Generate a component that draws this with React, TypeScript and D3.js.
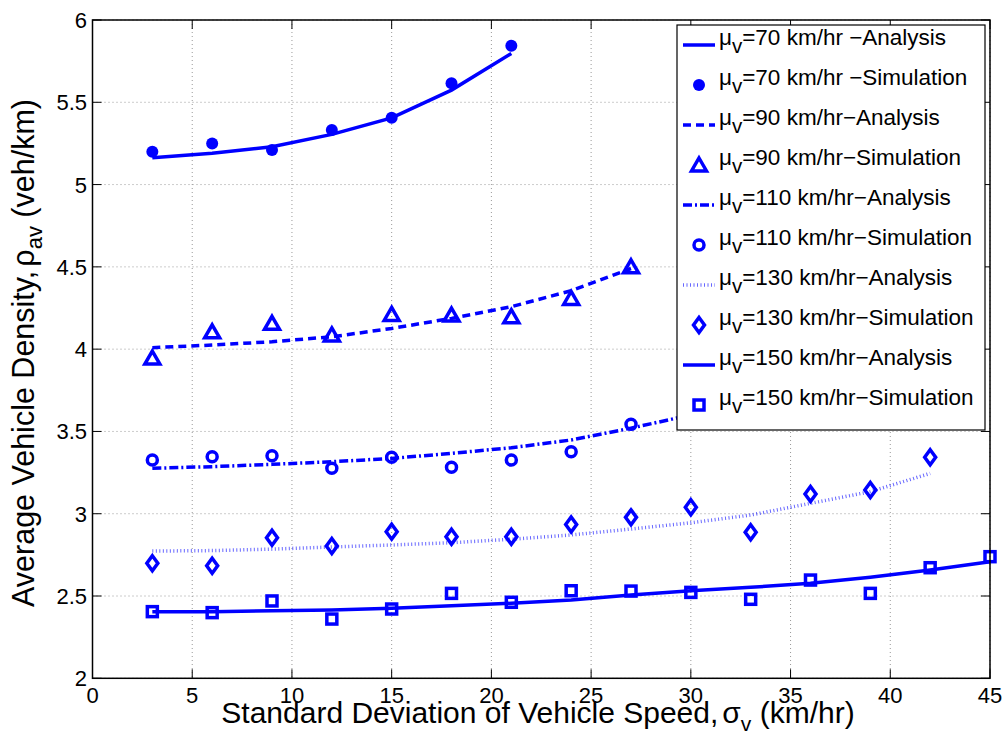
import React from "react";
import * as d3 from "d3";

const xTicks = [0, 5, 10, 15, 20, 25, 30, 35, 40, 45];
const yTicks = [2, 2.5, 3, 3.5, 4, 4.5, 5, 5.5, 6];
const yTickLabels = ["2", "2.5", "3", "3.5", "4", "4.5", "5", "5.5", "6"];

const xs70 = [3, 6, 9, 12, 15, 18, 21];
const ana70 = [5.163, 5.19, 5.23, 5.305, 5.405, 5.574, 5.797];
const sim70 = [5.199, 5.25, 5.21, 5.331, 5.406, 5.615, 5.843];

const xs90 = [3, 6, 9, 12, 15, 18, 21, 24, 27];
const ana90 = [4.009, 4.025, 4.045, 4.075, 4.126, 4.187, 4.258, 4.355, 4.49];
const sim90 = [3.946, 4.105, 4.157, 4.086, 4.211, 4.207, 4.197, 4.308, 4.5];

const xs110a = [3, 6, 9, 12, 15, 18, 21, 24, 27, 30];
const ana110 = [3.276, 3.286, 3.3, 3.316, 3.336, 3.367, 3.401, 3.448, 3.52, 3.6];
const xs110s = [3, 6, 9, 12, 15, 18, 21, 24, 27];
const sim110 = [3.326, 3.346, 3.352, 3.276, 3.343, 3.282, 3.326, 3.377, 3.543];

const xs130 = [3, 6, 9, 12, 15, 18, 21, 24, 27, 30, 33, 36, 39, 42];
const ana130 = [2.773, 2.776, 2.785, 2.798, 2.81, 2.824, 2.845, 2.871, 2.907, 2.945, 2.992, 3.063, 3.134, 3.245];
const sim130 = [2.699, 2.684, 2.854, 2.804, 2.891, 2.86, 2.86, 2.935, 2.978, 3.039, 2.887, 3.12, 3.144, 3.343];

const xs150 = [3, 6, 9, 12, 15, 18, 21, 24, 27, 30, 33, 36, 39, 42, 45];
const ana150 = [2.405, 2.405, 2.411, 2.415, 2.425, 2.441, 2.456, 2.476, 2.506, 2.532, 2.553, 2.577, 2.614, 2.658, 2.708];
const sim150 = [2.405, 2.399, 2.47, 2.36, 2.421, 2.516, 2.462, 2.532, 2.53, 2.522, 2.48, 2.597, 2.516, 2.672, 2.739];

const legendSpeeds = ["70", "70", "90", "90", "110", "110", "130", "130", "150", "150"];
const legendSuffix = [" −Analysis", " −Simulation", "−Analysis", "−Simulation", "−Analysis", "−Simulation", "−Analysis", "−Simulation", "−Analysis", "−Simulation"];

const BLUE = "#0000ff";
const FONT = "'Liberation Sans', Arial, Helvetica, sans-serif";

type LineStyle = { dash?: string; width: number; opacity?: number };
type MarkerKind = "dot" | "tri" | "circle" | "diamond" | "square";

const lineStyles: LineStyle[] = [
  { width: 3.5 },
  { width: 3.5, dash: "8 5" },
  { width: 3.5, dash: "9 3 2 3" },
  { width: 3.5, dash: "1 2.5", opacity: 0.6 },
  { width: 3.5 },
];
const markerKinds: MarkerKind[] = ["dot", "tri", "circle", "diamond", "square"];

function Marker({ kind, cx, cy }: { kind: MarkerKind; cx: number; cy: number }) {
  const sw = 3.5;
  if (kind === "dot") return <circle cx={cx} cy={cy} r={6} fill={BLUE} />;
  if (kind === "circle") return <circle cx={cx} cy={cy} r={5} fill="none" stroke={BLUE} strokeWidth={sw} />;
  if (kind === "square") return <rect x={cx - 5} y={cy - 5} width={10} height={10} fill="none" stroke={BLUE} strokeWidth={sw} />;
  if (kind === "diamond")
    return <path d={`M${cx},${cy - 7.5} L${cx + 5.5},${cy} L${cx},${cy + 7.5} L${cx - 5.5},${cy} Z`} fill="none" stroke={BLUE} strokeWidth={sw} />;
  return <path d={`M${cx},${cy - 7} L${cx + 7.5},${cy + 6} L${cx - 7.5},${cy + 6} Z`} fill="none" stroke={BLUE} strokeWidth={sw} strokeLinejoin="miter" />;
}

export default function App() {
  const W = 1005, H = 734;
  const x = d3.scaleLinear().domain([0, 45]).range([92.5, 990]);
  const y = d3.scaleLinear().domain([2, 6]).range([678.3, 20]);
  const [x0, x1] = x.range();
  const [y0, y1] = y.range();

  const line = d3.line<[number, number]>().x((d) => x(d[0])).y((d) => y(d[1]));
  const zip = (a: number[], b: number[]) => a.map((v, i) => [v, b[i]] as [number, number]);

  const analyses = [zip(xs70, ana70), zip(xs90, ana90), zip(xs110a, ana110), zip(xs130, ana130), zip(xs150, ana150)];
  const sims = [zip(xs70, sim70), zip(xs90, sim90), zip(xs110s, sim110), zip(xs130, sim130), zip(xs150, sim150)];

  const lg = { x: 677, y: 25, w: 308, h: 405, row: 40, first: 37 };

  return (
    <svg width={W} height={H} style={{ position: "absolute", left: 0, top: 0, background: "#fff" }} fontFamily={FONT}>
      <rect width={W} height={H} fill="#fff" />
      {/* grid */}
      {xTicks.map((t) => (
        <line key={"gx" + t} x1={x(t)} x2={x(t)} y1={y1} y2={y0} stroke="#999" strokeWidth={1} strokeDasharray="1 3" />
      ))}
      {yTicks.map((t) => (
        <line key={"gy" + t} x1={x0} x2={x1} y1={y(t)} y2={y(t)} stroke="#999" strokeWidth={1} strokeDasharray="1 3" />
      ))}
      {/* data lines */}
      {analyses.map((d, i) => (
        <path key={"a" + i} d={line(d) || ""} fill="none" stroke={BLUE} strokeWidth={lineStyles[i].width}
          strokeDasharray={lineStyles[i].dash} strokeOpacity={lineStyles[i].opacity ?? 1} />
      ))}
      {sims.map((d, i) =>
        d.map((p, j) => <Marker key={"m" + i + "-" + j} kind={markerKinds[i]} cx={x(p[0])} cy={y(p[1])} />)
      )}
      {/* axes box and ticks */}
      <rect x={x0} y={y1} width={x1 - x0} height={y0 - y1} fill="none" stroke="#000" strokeWidth={1.5} />
      {xTicks.map((t) => (
        <g key={"tx" + t}>
          <line x1={x(t)} x2={x(t)} y1={y0} y2={y0 - 9} stroke="#000" strokeWidth={1} />
          <line x1={x(t)} x2={x(t)} y1={y1} y2={y1 + 9} stroke="#000" strokeWidth={1} />
          <text x={x(t)} y={703} fontSize={22} textAnchor="middle" fill="#000">{t}</text>
        </g>
      ))}
      {yTicks.map((t, i) => (
        <g key={"ty" + t}>
          <line x1={x0} x2={x0 + 9} y1={y(t)} y2={y(t)} stroke="#000" strokeWidth={1} />
          <line x1={x1} x2={x1 - 9} y1={y(t)} y2={y(t)} stroke="#000" strokeWidth={1} />
          <text x={87} y={y(t) + 8} fontSize={22} textAnchor="end" fill="#000">{yTickLabels[i]}</text>
        </g>
      ))}
      {/* axis labels */}
      <text x={538} y={723} fontSize={30} textAnchor="middle" fill="#000">
        Standard Deviation of Vehicle Speed,
        <tspan dx={4}>σ</tspan>
        <tspan fontSize={21} dy={8}>v</tspan>
        <tspan dy={-8}> (km/hr)</tspan>
      </text>
      <text transform="translate(34,353) rotate(-90)" x={0} y={0} fontSize={30.5} textAnchor="middle" fill="#000">
        Average Vehicle Density,
        <tspan dx={4}>ρ</tspan>
        <tspan fontSize={22} dy={8}>av</tspan>
        <tspan dy={-8}> (veh/km)</tspan>
      </text>
      {/* legend */}
      <rect x={lg.x} y={lg.y} width={lg.w} height={lg.h} fill="#fff" stroke="#000" strokeWidth={1.2} />
      {legendSpeeds.map((s, i) => {
        const cy = lg.first + i * lg.row;
        const series = Math.floor(i / 2);
        const isLine = i % 2 === 0;
        const st = lineStyles[series];
        return (
          <g key={"lg" + i}>
            {isLine ? (
              <line x1={683} x2={715} y1={cy + 8} y2={cy + 8} stroke={BLUE} strokeWidth={st.width}
                strokeDasharray={st.dash} strokeOpacity={st.opacity ?? 1} />
            ) : (
              <Marker kind={markerKinds[series]} cx={699} cy={cy + 8} />
            )}
            <text x={719} y={cy + 8} fontSize={22.5} fill="#000">
              μ<tspan fontSize={20.5} dy={8}>v</tspan>
              <tspan dy={-8}>={s} km/hr{legendSuffix[i]}</tspan>
            </text>
          </g>
        );
      })}
    </svg>
  );
}
